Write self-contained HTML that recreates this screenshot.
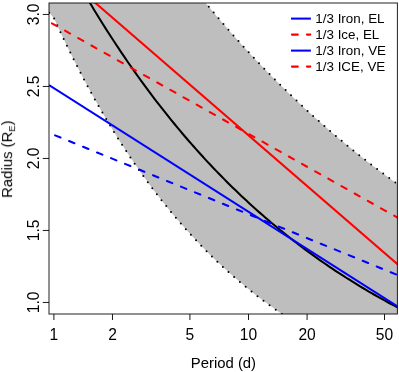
<!DOCTYPE html>
<html><head><meta charset="utf-8"><style>
html,body{margin:0;padding:0;background:#fff;}
svg{display:block;}
text{font-family:"Liberation Sans",sans-serif;fill:#000;}
</style></head><body>
<svg width="399" height="372" viewBox="0 0 399 372">
<rect width="399" height="372" fill="#fff"/>
<defs><clipPath id="c"><rect x="49.0" y="3.0" width="348.4" height="311.0"/></clipPath></defs>
<g clip-path="url(#c)">
<path d="M49.00,12.40 L54.00,18.16 L56.07,22.69 L58.13,27.18 L60.20,31.62 L62.27,36.01 L64.34,40.35 L66.40,44.65 L68.47,48.90 L70.54,53.11 L72.61,57.27 L74.67,61.39 L76.74,65.47 L78.81,69.50 L80.87,73.49 L82.94,77.44 L85.01,81.34 L87.08,85.21 L89.14,89.03 L91.21,92.81 L93.28,96.56 L95.34,100.26 L97.41,103.92 L99.48,107.55 L101.55,111.14 L103.61,114.69 L105.68,118.20 L107.75,121.67 L109.82,125.11 L111.88,128.51 L113.95,131.87 L116.02,135.20 L118.08,138.50 L120.15,141.76 L122.22,144.98 L124.29,148.17 L126.35,151.33 L128.42,154.45 L130.49,157.55 L132.55,160.60 L134.62,163.63 L136.69,166.62 L138.76,169.58 L140.82,172.51 L142.89,175.41 L144.96,178.28 L147.03,181.12 L149.09,183.93 L151.16,186.71 L153.23,189.46 L155.29,192.18 L157.36,194.87 L159.43,197.53 L161.50,200.17 L163.56,202.77 L165.63,205.35 L167.70,207.90 L169.76,210.43 L171.83,212.93 L173.90,215.40 L175.97,217.84 L178.03,220.26 L180.10,222.66 L182.17,225.03 L184.24,227.37 L186.30,229.69 L188.37,231.98 L190.44,234.25 L192.50,236.50 L194.57,238.72 L196.64,240.92 L198.71,243.09 L200.77,245.25 L202.84,247.38 L204.91,249.48 L206.97,251.57 L209.04,253.63 L211.11,255.67 L213.18,257.69 L215.24,259.69 L217.31,261.67 L219.38,263.62 L221.45,265.56 L223.51,267.47 L225.58,269.37 L227.65,271.24 L229.71,273.09 L231.78,274.93 L233.85,276.74 L235.92,278.54 L237.98,280.32 L240.05,282.08 L242.12,283.82 L244.18,285.54 L246.25,287.24 L248.32,288.93 L250.39,290.59 L252.45,292.24 L254.52,293.88 L256.59,295.49 L258.66,297.09 L260.72,298.67 L262.79,300.23 L264.86,301.78 L266.92,303.31 L268.99,304.83 L271.06,306.33 L273.13,307.81 L275.19,309.28 L277.26,310.73 L279.33,312.16 L281.39,313.59 L283.46,314.99 L285.53,316.38 L287.60,317.76 L289.66,319.12 L291.73,320.47 L293.80,321.80 L295.87,323.12 L297.93,324.43 L300.00,325.72 L300.0,400 L420,400 L420,192.9 L410.00,192.93 L408.15,191.64 L406.30,190.35 L404.45,189.05 L402.61,187.74 L400.76,186.43 L398.91,185.11 L397.06,183.79 L395.21,182.45 L393.36,181.12 L391.51,179.77 L389.66,178.42 L387.82,177.06 L385.97,175.69 L384.12,174.32 L382.27,172.94 L380.42,171.55 L378.57,170.16 L376.72,168.76 L374.87,167.35 L373.03,165.93 L371.18,164.51 L369.33,163.08 L367.48,161.64 L365.63,160.20 L363.78,158.74 L361.93,157.29 L360.08,155.82 L358.24,154.35 L356.39,152.86 L354.54,151.37 L352.69,149.88 L350.84,148.37 L348.99,146.86 L347.14,145.34 L345.29,143.82 L343.45,142.28 L341.60,140.74 L339.75,139.19 L337.90,137.63 L336.05,136.06 L334.20,134.49 L332.35,132.91 L330.50,131.32 L328.66,129.72 L326.81,128.11 L324.96,126.50 L323.11,124.87 L321.26,123.24 L319.41,121.60 L317.56,119.96 L315.71,118.30 L313.87,116.64 L312.02,114.96 L310.17,113.28 L308.32,111.59 L306.47,109.89 L304.62,108.19 L302.77,106.47 L300.92,104.75 L299.08,103.01 L297.23,101.27 L295.38,99.52 L293.53,97.76 L291.68,95.99 L289.83,94.22 L287.98,92.43 L286.13,90.63 L284.29,88.83 L282.44,87.01 L280.59,85.19 L278.74,83.36 L276.89,81.52 L275.04,79.67 L273.19,77.81 L271.34,75.94 L269.50,74.06 L267.65,72.17 L265.80,70.27 L263.95,68.36 L262.10,66.45 L260.25,64.52 L258.40,62.58 L256.55,60.63 L254.71,58.68 L252.86,56.71 L251.01,54.73 L249.16,52.75 L247.31,50.75 L245.46,48.74 L243.61,46.73 L241.76,44.70 L239.92,42.66 L238.07,40.61 L236.22,38.56 L234.37,36.49 L232.52,34.41 L230.67,32.32 L228.82,30.22 L226.97,28.11 L225.13,25.98 L223.28,23.85 L221.43,21.71 L219.58,19.55 L217.73,17.39 L215.88,15.21 L214.03,13.03 L212.18,10.83 L210.34,8.62 L208.49,6.40 L206.64,4.17 L204.79,1.92 L202.94,-0.33 L201.09,-2.60 L199.24,-4.88 L197.39,-7.17 L195.55,-9.47 L193.70,-11.78 L191.85,-14.10 L190.00,-16.44 L49.0,-10 Z" fill="#bebebe"/>
<g fill="#000"><circle cx="49.22" cy="12.65" r="1.0"/><circle cx="54.11" cy="18.40" r="1.0"/><circle cx="57.25" cy="25.27" r="1.0"/><circle cx="60.44" cy="32.13" r="1.0"/><circle cx="63.67" cy="38.96" r="1.0"/><circle cx="66.95" cy="45.78" r="1.0"/><circle cx="70.27" cy="52.57" r="1.0"/><circle cx="73.64" cy="59.34" r="1.0"/><circle cx="77.05" cy="66.08" r="1.0"/><circle cx="80.52" cy="72.80" r="1.0"/><circle cx="84.03" cy="79.50" r="1.0"/><circle cx="87.59" cy="86.16" r="1.0"/><circle cx="91.21" cy="92.80" r="1.0"/><circle cx="94.87" cy="99.42" r="1.0"/><circle cx="98.59" cy="106.00" r="1.0"/><circle cx="102.37" cy="112.55" r="1.0"/><circle cx="106.20" cy="119.07" r="1.0"/><circle cx="110.08" cy="125.55" r="1.0"/><circle cx="114.03" cy="132.00" r="1.0"/><circle cx="118.03" cy="138.41" r="1.0"/><circle cx="122.09" cy="144.79" r="1.0"/><circle cx="126.22" cy="151.12" r="1.0"/><circle cx="130.40" cy="157.42" r="1.0"/><circle cx="134.65" cy="163.67" r="1.0"/><circle cx="138.97" cy="169.88" r="1.0"/><circle cx="143.34" cy="176.04" r="1.0"/><circle cx="147.79" cy="182.16" r="1.0"/><circle cx="152.30" cy="188.23" r="1.0"/><circle cx="156.88" cy="194.24" r="1.0"/><circle cx="161.53" cy="200.20" r="1.0"/><circle cx="166.24" cy="206.11" r="1.0"/><circle cx="171.03" cy="211.96" r="1.0"/><circle cx="175.89" cy="217.75" r="1.0"/><circle cx="180.82" cy="223.49" r="1.0"/><circle cx="185.82" cy="229.15" r="1.0"/><circle cx="190.90" cy="234.76" r="1.0"/><circle cx="196.05" cy="240.29" r="1.0"/><circle cx="201.27" cy="245.76" r="1.0"/><circle cx="206.56" cy="251.16" r="1.0"/><circle cx="211.93" cy="256.48" r="1.0"/><circle cx="217.37" cy="261.73" r="1.0"/><circle cx="222.89" cy="266.90" r="1.0"/><circle cx="228.48" cy="271.99" r="1.0"/><circle cx="234.14" cy="277.00" r="1.0"/><circle cx="239.87" cy="281.93" r="1.0"/><circle cx="245.68" cy="286.77" r="1.0"/><circle cx="251.55" cy="291.53" r="1.0"/><circle cx="257.50" cy="296.20" r="1.0"/><circle cx="263.51" cy="300.78" r="1.0"/><circle cx="269.59" cy="305.27" r="1.0"/><circle cx="275.74" cy="309.66" r="1.0"/><circle cx="281.96" cy="313.97" r="1.0"/><circle cx="288.23" cy="318.18" r="1.0"/><circle cx="294.57" cy="322.30" r="1.0"/><circle cx="194.46" cy="-10.82" r="1.0"/><circle cx="199.20" cy="-4.93" r="1.0"/><circle cx="203.98" cy="0.93" r="1.0"/><circle cx="208.79" cy="6.76" r="1.0"/><circle cx="213.64" cy="12.56" r="1.0"/><circle cx="218.53" cy="18.32" r="1.0"/><circle cx="223.46" cy="24.06" r="1.0"/><circle cx="228.42" cy="29.76" r="1.0"/><circle cx="233.43" cy="35.43" r="1.0"/><circle cx="238.47" cy="41.06" r="1.0"/><circle cx="243.55" cy="46.66" r="1.0"/><circle cx="248.67" cy="52.22" r="1.0"/><circle cx="253.83" cy="57.75" r="1.0"/><circle cx="259.03" cy="63.23" r="1.0"/><circle cx="264.26" cy="68.69" r="1.0"/><circle cx="269.54" cy="74.10" r="1.0"/><circle cx="274.85" cy="79.48" r="1.0"/><circle cx="280.21" cy="84.82" r="1.0"/><circle cx="285.60" cy="90.11" r="1.0"/><circle cx="291.03" cy="95.37" r="1.0"/><circle cx="296.50" cy="100.59" r="1.0"/><circle cx="302.01" cy="105.76" r="1.0"/><circle cx="307.56" cy="110.90" r="1.0"/><circle cx="313.15" cy="115.99" r="1.0"/><circle cx="318.78" cy="121.04" r="1.0"/><circle cx="324.44" cy="126.05" r="1.0"/><circle cx="330.15" cy="131.01" r="1.0"/><circle cx="335.89" cy="135.93" r="1.0"/><circle cx="341.67" cy="140.80" r="1.0"/><circle cx="347.49" cy="145.63" r="1.0"/><circle cx="353.34" cy="150.41" r="1.0"/><circle cx="359.24" cy="155.14" r="1.0"/><circle cx="365.17" cy="159.83" r="1.0"/><circle cx="371.13" cy="164.47" r="1.0"/><circle cx="377.14" cy="169.07" r="1.0"/><circle cx="383.18" cy="173.62" r="1.0"/><circle cx="389.25" cy="178.11" r="1.0"/><circle cx="395.36" cy="182.56" r="1.0"/><circle cx="401.51" cy="186.97" r="1.0"/><circle cx="407.69" cy="191.32" r="1.0"/></g>
<path d="M80.00,-14.03 L82.77,-9.24 L85.55,-4.50 L88.32,0.19 L91.09,4.84 L93.87,9.43 L96.64,13.98 L99.41,18.48 L102.18,22.93 L104.96,27.34 L107.73,31.70 L110.50,36.01 L113.28,40.28 L116.05,44.51 L118.82,48.69 L121.60,52.83 L124.37,56.93 L127.14,60.98 L129.92,64.99 L132.69,68.96 L135.46,72.89 L138.24,76.77 L141.01,80.62 L143.78,84.42 L146.55,88.19 L149.33,91.92 L152.10,95.61 L154.87,99.26 L157.65,102.87 L160.42,106.45 L163.19,109.98 L165.97,113.48 L168.74,116.95 L171.51,120.38 L174.29,123.77 L177.06,127.13 L179.83,130.45 L182.61,133.74 L185.38,136.99 L188.15,140.21 L190.92,143.40 L193.70,146.55 L196.47,149.67 L199.24,152.76 L202.02,155.81 L204.79,158.84 L207.56,161.83 L210.34,164.79 L213.11,167.72 L215.88,170.62 L218.66,173.49 L221.43,176.33 L224.20,179.14 L226.97,181.92 L229.75,184.68 L232.52,187.40 L235.29,190.09 L238.07,192.76 L240.84,195.40 L243.61,198.01 L246.39,200.60 L249.16,203.16 L251.93,205.69 L254.71,208.19 L257.48,210.67 L260.25,213.12 L263.03,215.55 L265.80,217.95 L268.57,220.33 L271.34,222.68 L274.12,225.01 L276.89,227.32 L279.66,229.60 L282.44,231.85 L285.21,234.09 L287.98,236.29 L290.76,238.48 L293.53,240.65 L296.30,242.79 L299.08,244.91 L301.85,247.00 L304.62,249.08 L307.39,251.13 L310.17,253.16 L312.94,255.17 L315.71,257.16 L318.49,259.13 L321.26,261.08 L324.03,263.01 L326.81,264.92 L329.58,266.81 L332.35,268.68 L335.13,270.53 L337.90,272.36 L340.67,274.17 L343.45,275.96 L346.22,277.74 L348.99,279.49 L351.76,281.23 L354.54,282.95 L357.31,284.65 L360.08,286.33 L362.86,288.00 L365.63,289.65 L368.40,291.28 L371.18,292.89 L373.95,294.49 L376.72,296.07 L379.50,297.64 L382.27,299.18 L385.04,300.72 L387.82,302.23 L390.59,303.73 L393.36,305.22 L396.13,306.69 L398.91,308.14 L401.68,309.58 L404.45,311.00 L407.23,312.41 L410.00,313.81" fill="none" stroke="#000" stroke-width="2.05"/>
<path d="M49.00,85.00 L397.50,306.30" fill="none" stroke="#0000ff" stroke-width="2.05"/>
<path d="M80.00,-10.39 L410.00,275.06" fill="none" stroke="#ff0000" stroke-width="2.05"/>
<path d="M55.10,135.33 L410.00,280.10" fill="none" stroke="#0000ff" stroke-width="2.05" stroke-linecap="round" stroke-dasharray="5.8 9.3"/>
<path d="M51.90,23.28 L410.00,224.63" fill="none" stroke="#ff0000" stroke-width="2.05" stroke-linecap="round" stroke-dasharray="5.8 9.3"/>
</g>
<rect x="49.0" y="3.0" width="348.4" height="311.0" fill="none" stroke="#000" stroke-width="1" stroke-opacity="0.87"/>
<g stroke="#000" stroke-width="1" stroke-opacity="0.9"><line x1="53.90" y1="314.0" x2="53.90" y2="320.0"/><line x1="112.48" y1="314.0" x2="112.48" y2="320.0"/><line x1="189.92" y1="314.0" x2="189.92" y2="320.0"/><line x1="248.50" y1="314.0" x2="248.50" y2="320.0"/><line x1="307.08" y1="314.0" x2="307.08" y2="320.0"/><line x1="384.52" y1="314.0" x2="384.52" y2="320.0"/><line x1="49.0" y1="302.45" x2="42.8" y2="302.45"/><line x1="49.0" y1="230.45" x2="42.8" y2="230.45"/><line x1="49.0" y1="158.45" x2="42.8" y2="158.45"/><line x1="49.0" y1="86.45" x2="42.8" y2="86.45"/><line x1="49.0" y1="14.45" x2="42.8" y2="14.45"/></g>
<g font-size="15.6" style="filter:opacity(0.999)"><text x="53.90" y="339.6" text-anchor="middle">1</text><text x="112.48" y="339.6" text-anchor="middle">2</text><text x="189.92" y="339.6" text-anchor="middle">5</text><text x="248.50" y="339.6" text-anchor="middle">10</text><text x="307.08" y="339.6" text-anchor="middle">20</text><text x="384.52" y="339.6" text-anchor="middle">50</text><text transform="translate(39.3,302.45) rotate(-90)" text-anchor="middle">1.0</text><text transform="translate(39.3,230.45) rotate(-90)" text-anchor="middle">1.5</text><text transform="translate(39.3,158.45) rotate(-90)" text-anchor="middle">2.0</text><text transform="translate(39.3,86.45) rotate(-90)" text-anchor="middle">2.5</text><text transform="translate(39.3,14.45) rotate(-90)" text-anchor="middle">3.0</text></g><g font-size="14.9" style="filter:opacity(0.999)">
<text x="223.4" y="368.2" text-anchor="middle">Period (d)</text>
<text transform="translate(12.1,159.2) rotate(-90)" text-anchor="middle">Radius (R<tspan font-size="9.3" dy="3.4">E</tspan><tspan dy="-3.4">)</tspan></text>
</g>
<g style="filter:opacity(0.999)"><line x1="291.0" y1="18.60" x2="310.9" y2="18.60" stroke="#0000ff" stroke-width="2.05" stroke-linecap="butt"/><text x="315.3" y="23.00" font-size="13.4">1/3 Iron, EL</text><line x1="291.9" y1="34.60" x2="310.3" y2="34.60" stroke="#ff0000" stroke-width="2.05" stroke-linecap="round" stroke-dasharray="5.9 9.1"/><text x="315.3" y="39.00" font-size="13.4">1/3 Ice, EL</text><line x1="291.0" y1="50.60" x2="310.9" y2="50.60" stroke="#0000ff" stroke-width="2.05" stroke-linecap="butt"/><text x="315.3" y="55.00" font-size="13.4">1/3 Iron, VE</text><line x1="291.9" y1="66.60" x2="310.3" y2="66.60" stroke="#ff0000" stroke-width="2.05" stroke-linecap="round" stroke-dasharray="5.9 9.1"/><text x="315.3" y="71.00" font-size="13.4">1/3 ICE, VE</text></g>
</svg>
</body></html>
